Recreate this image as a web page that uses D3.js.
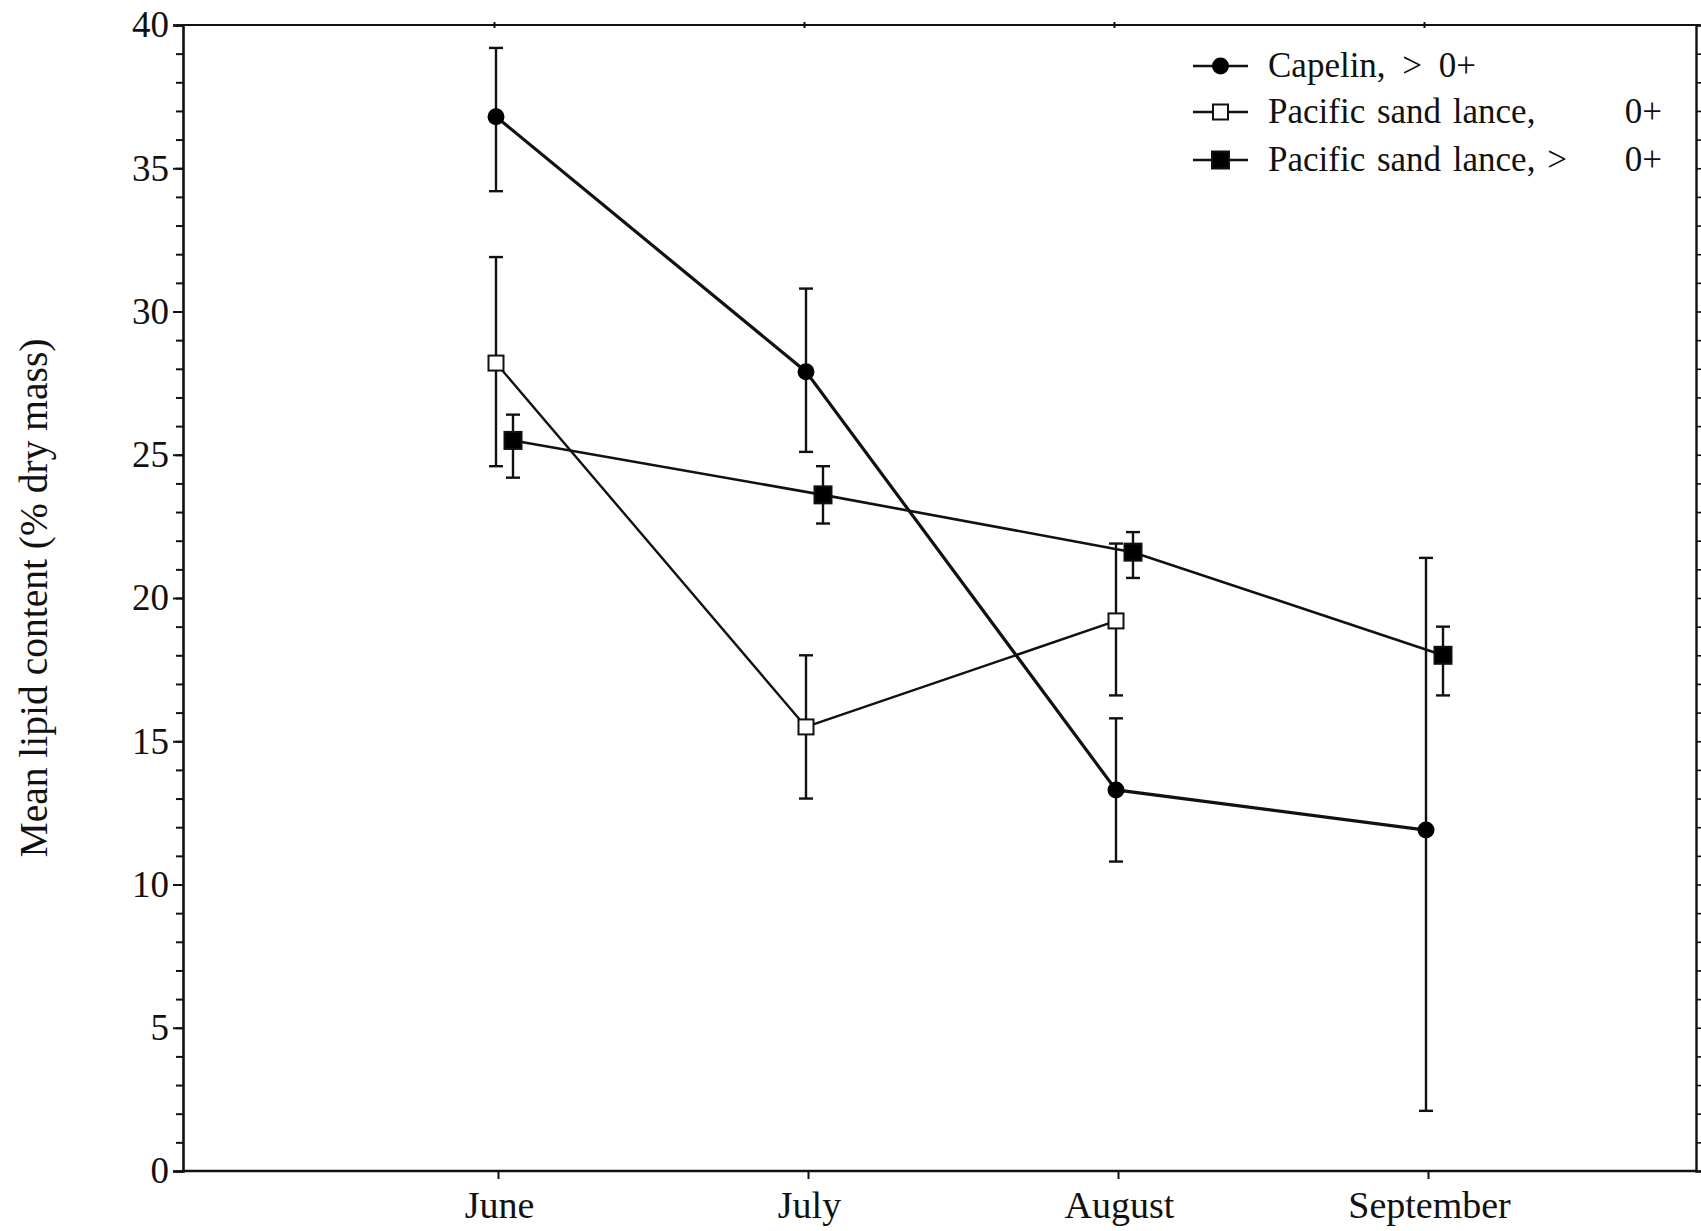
<!DOCTYPE html>
<html>
<head>
<meta charset="utf-8">
<script src="https://cdn.jsdelivr.net/npm/d3@7"></script>
<style>
  html, body { margin: 0; padding: 0; background: #fff; }
  svg { display: block; }
  text { font-family: "Liberation Serif", "Times New Roman", serif; fill: #111; }
</style>
</head>
<body>
<script>
// ---- data ----
const months = ["June", "July", "August", "September"];
const yMajorTicks = [0, 5, 10, 15, 20, 25, 30, 35, 40];
const yMinorTicks = d3.range(0, 41, 1);

const capelinMean = [36.8, 27.9, 13.3, 11.9];
const capelinLow  = [34.2, 25.1, 10.8, 2.1];
const capelinHigh = [39.2, 30.8, 15.8, 21.4];

const lance0Mean = [28.2, 15.5, 19.2, null];
const lance0Low  = [24.6, 13.0, 16.6, null];
const lance0High = [31.9, 18.0, 21.9, null];

const lanceOlderMean = [25.5, 23.6, 21.6, 18.0];
const lanceOlderLow  = [24.2, 22.6, 20.7, 16.6];
const lanceOlderHigh = [26.4, 24.6, 22.3, 19.0];

const seriesNames = ["Capelin, > 0+", "Pacific sand lance,", "Pacific sand lance, >"];
const seriesSuffix = ["", "0+", "0+"];

// ---- layout ----
const W = 1701, H = 1231;
const mLeft = 183, mRight = 1696, mTop = 25, mBottom = 1171;

const svg = d3.select("body").append("svg").attr("width", W).attr("height", H);

const x = d3.scalePoint().domain(months).range([498, 1428]);
const y = d3.scaleLinear().domain([0, 40]).range([mBottom, mTop]);

const series = [
  { name: 0, mean: capelinMean, low: capelinLow, high: capelinHigh, shape: "circle", fill: "#000", dx: -2, lw: 3.2 },
  { name: 1, mean: lance0Mean, low: lance0Low, high: lance0High, shape: "square", fill: "#fff", dx: -2, lw: 2.4 },
  { name: 2, mean: lanceOlderMean, low: lanceOlderLow, high: lanceOlderHigh, shape: "square", fill: "#000", dx: 15, lw: 2.6 }
];

// ---- frame ----
svg.append("line").attr("x1", mLeft).attr("x2", mRight + 4).attr("y1", mTop).attr("y2", mTop)
  .attr("stroke", "#111").attr("stroke-width", 2.2);

// top ticks
svg.append("g").attr("transform", `translate(0,${mTop})`)
  .call(d3.axisTop(x).tickSize(6).tickFormat(""))
  .call(g => g.select(".domain").remove())
  .call(g => g.selectAll("line").attr("stroke", "#111").attr("stroke-width", 2).attr("transform", "translate(-4,3)"));

// right axis (ticks only, every unit)
svg.append("g").attr("transform", `translate(${mRight},0)`)
  .call(d3.axisRight(y).tickValues(yMinorTicks).tickSize(6).tickFormat(""))
  .call(g => g.select(".domain").attr("stroke", "#111").attr("stroke-width", 2.4))
  .call(g => g.selectAll(".tick line").attr("stroke", "#111").attr("stroke-width", 1.6));

// left minor ticks
svg.append("g").attr("transform", `translate(${mLeft},0)`)
  .call(d3.axisLeft(y).tickValues(yMinorTicks).tickSize(7).tickFormat(""))
  .call(g => g.select(".domain").remove())
  .call(g => g.selectAll(".tick line").attr("stroke", "#111").attr("stroke-width", 2));

// left major axis
svg.append("g").attr("transform", `translate(${mLeft},0)`)
  .call(d3.axisLeft(y).tickValues(yMajorTicks).tickSize(10).tickPadding(4))
  .call(g => g.select(".domain").attr("stroke", "#111").attr("stroke-width", 2.6))
  .call(g => g.selectAll(".tick line").attr("stroke", "#111").attr("stroke-width", 2))
  .call(g => g.selectAll(".tick text").attr("font-size", 37).attr("fill", "#111")
      .attr("font-family", "'Liberation Serif', serif"));

// bottom axis
svg.append("g").attr("transform", `translate(0,${mBottom})`)
  .call(d3.axisBottom(x).tickSize(8).tickPadding(12))
  .call(g => g.select(".domain").attr("d", `M${mLeft},0H${mRight}`).attr("stroke", "#111").attr("stroke-width", 2.6))
  .call(g => g.selectAll(".tick line").attr("stroke", "#111").attr("stroke-width", 2))
  .call(g => g.selectAll(".tick text").attr("font-size", 38).attr("fill", "#111").attr("dx", 1)
      .attr("font-family", "'Liberation Serif', serif"));

// y title
svg.append("text")
  .attr("transform", `translate(47,598) rotate(-90)`)
  .attr("text-anchor", "middle")
  .attr("font-size", 39.5)
  .text("Mean lipid content (% dry mass)");

// ---- series ----
const capW = 7;
series.forEach(s => {
  const pts = months.map((m, i) => ({ m, i, v: s.mean[i], lo: s.low[i], hi: s.high[i] }))
    .filter(d => d.v !== null);
  const g = svg.append("g");
  pts.forEach(d => {
    const cx = x(d.m) + s.dx;
    g.append("line").attr("x1", cx).attr("x2", cx).attr("y1", y(d.lo)).attr("y2", y(d.hi))
      .attr("stroke", "#111").attr("stroke-width", 2.4);
    [d.lo, d.hi].forEach(v => {
      g.append("line").attr("x1", cx - capW).attr("x2", cx + capW).attr("y1", y(v)).attr("y2", y(v))
        .attr("stroke", "#111").attr("stroke-width", 2.4);
    });
  });
  g.append("path")
    .datum(pts)
    .attr("d", d3.line().x(d => x(d.m) + s.dx).y(d => y(d.v)))
    .attr("fill", "none").attr("stroke", "#111").attr("stroke-width", s.lw);
  pts.forEach(d => {
    const cx = x(d.m) + s.dx, cy = y(d.v);
    if (s.shape === "circle") {
      g.append("circle").attr("cx", cx).attr("cy", cy).attr("r", 8.5).attr("fill", "#000");
    } else {
      const sz = s.fill === "#000" ? 17 : 15;
      g.append("rect").attr("x", cx - sz / 2).attr("y", cy - sz / 2).attr("width", sz).attr("height", sz)
        .attr("fill", s.fill).attr("stroke", "#111").attr("stroke-width", 2);
    }
  });
});

// ---- legend ----
const legX = 1193, legLineW = 55, legTextX = 1268, legEndX = 1662;
const legY = [66, 112, 160];
series.forEach((s, i) => {
  const g = svg.append("g").attr("transform", `translate(0,${legY[i]})`);
  g.append("line").attr("x1", legX).attr("x2", legX + legLineW).attr("y1", 0).attr("y2", 0)
    .attr("stroke", "#111").attr("stroke-width", 2.4);
  const cx = legX + legLineW / 2;
  if (s.shape === "circle") {
    g.append("circle").attr("cx", cx).attr("cy", 0).attr("r", 8.5).attr("fill", "#000");
  } else {
    const sz = s.fill === "#000" ? 17 : 15;
    g.append("rect").attr("x", cx - sz / 2).attr("y", -sz / 2).attr("width", sz).attr("height", sz)
      .attr("fill", s.fill).attr("stroke", "#111").attr("stroke-width", 2);
  }
  g.append("text").attr("x", legTextX).attr("y", 11).attr("font-size", 35)
    .attr("word-spacing", i === 0 ? 8 : 3).text(seriesNames[i]);
  if (seriesSuffix[i]) {
    g.append("text").attr("x", legEndX).attr("y", 11).attr("font-size", 35)
      .attr("text-anchor", "end").text(seriesSuffix[i]);
  }
});
</script>
</body>
</html>
